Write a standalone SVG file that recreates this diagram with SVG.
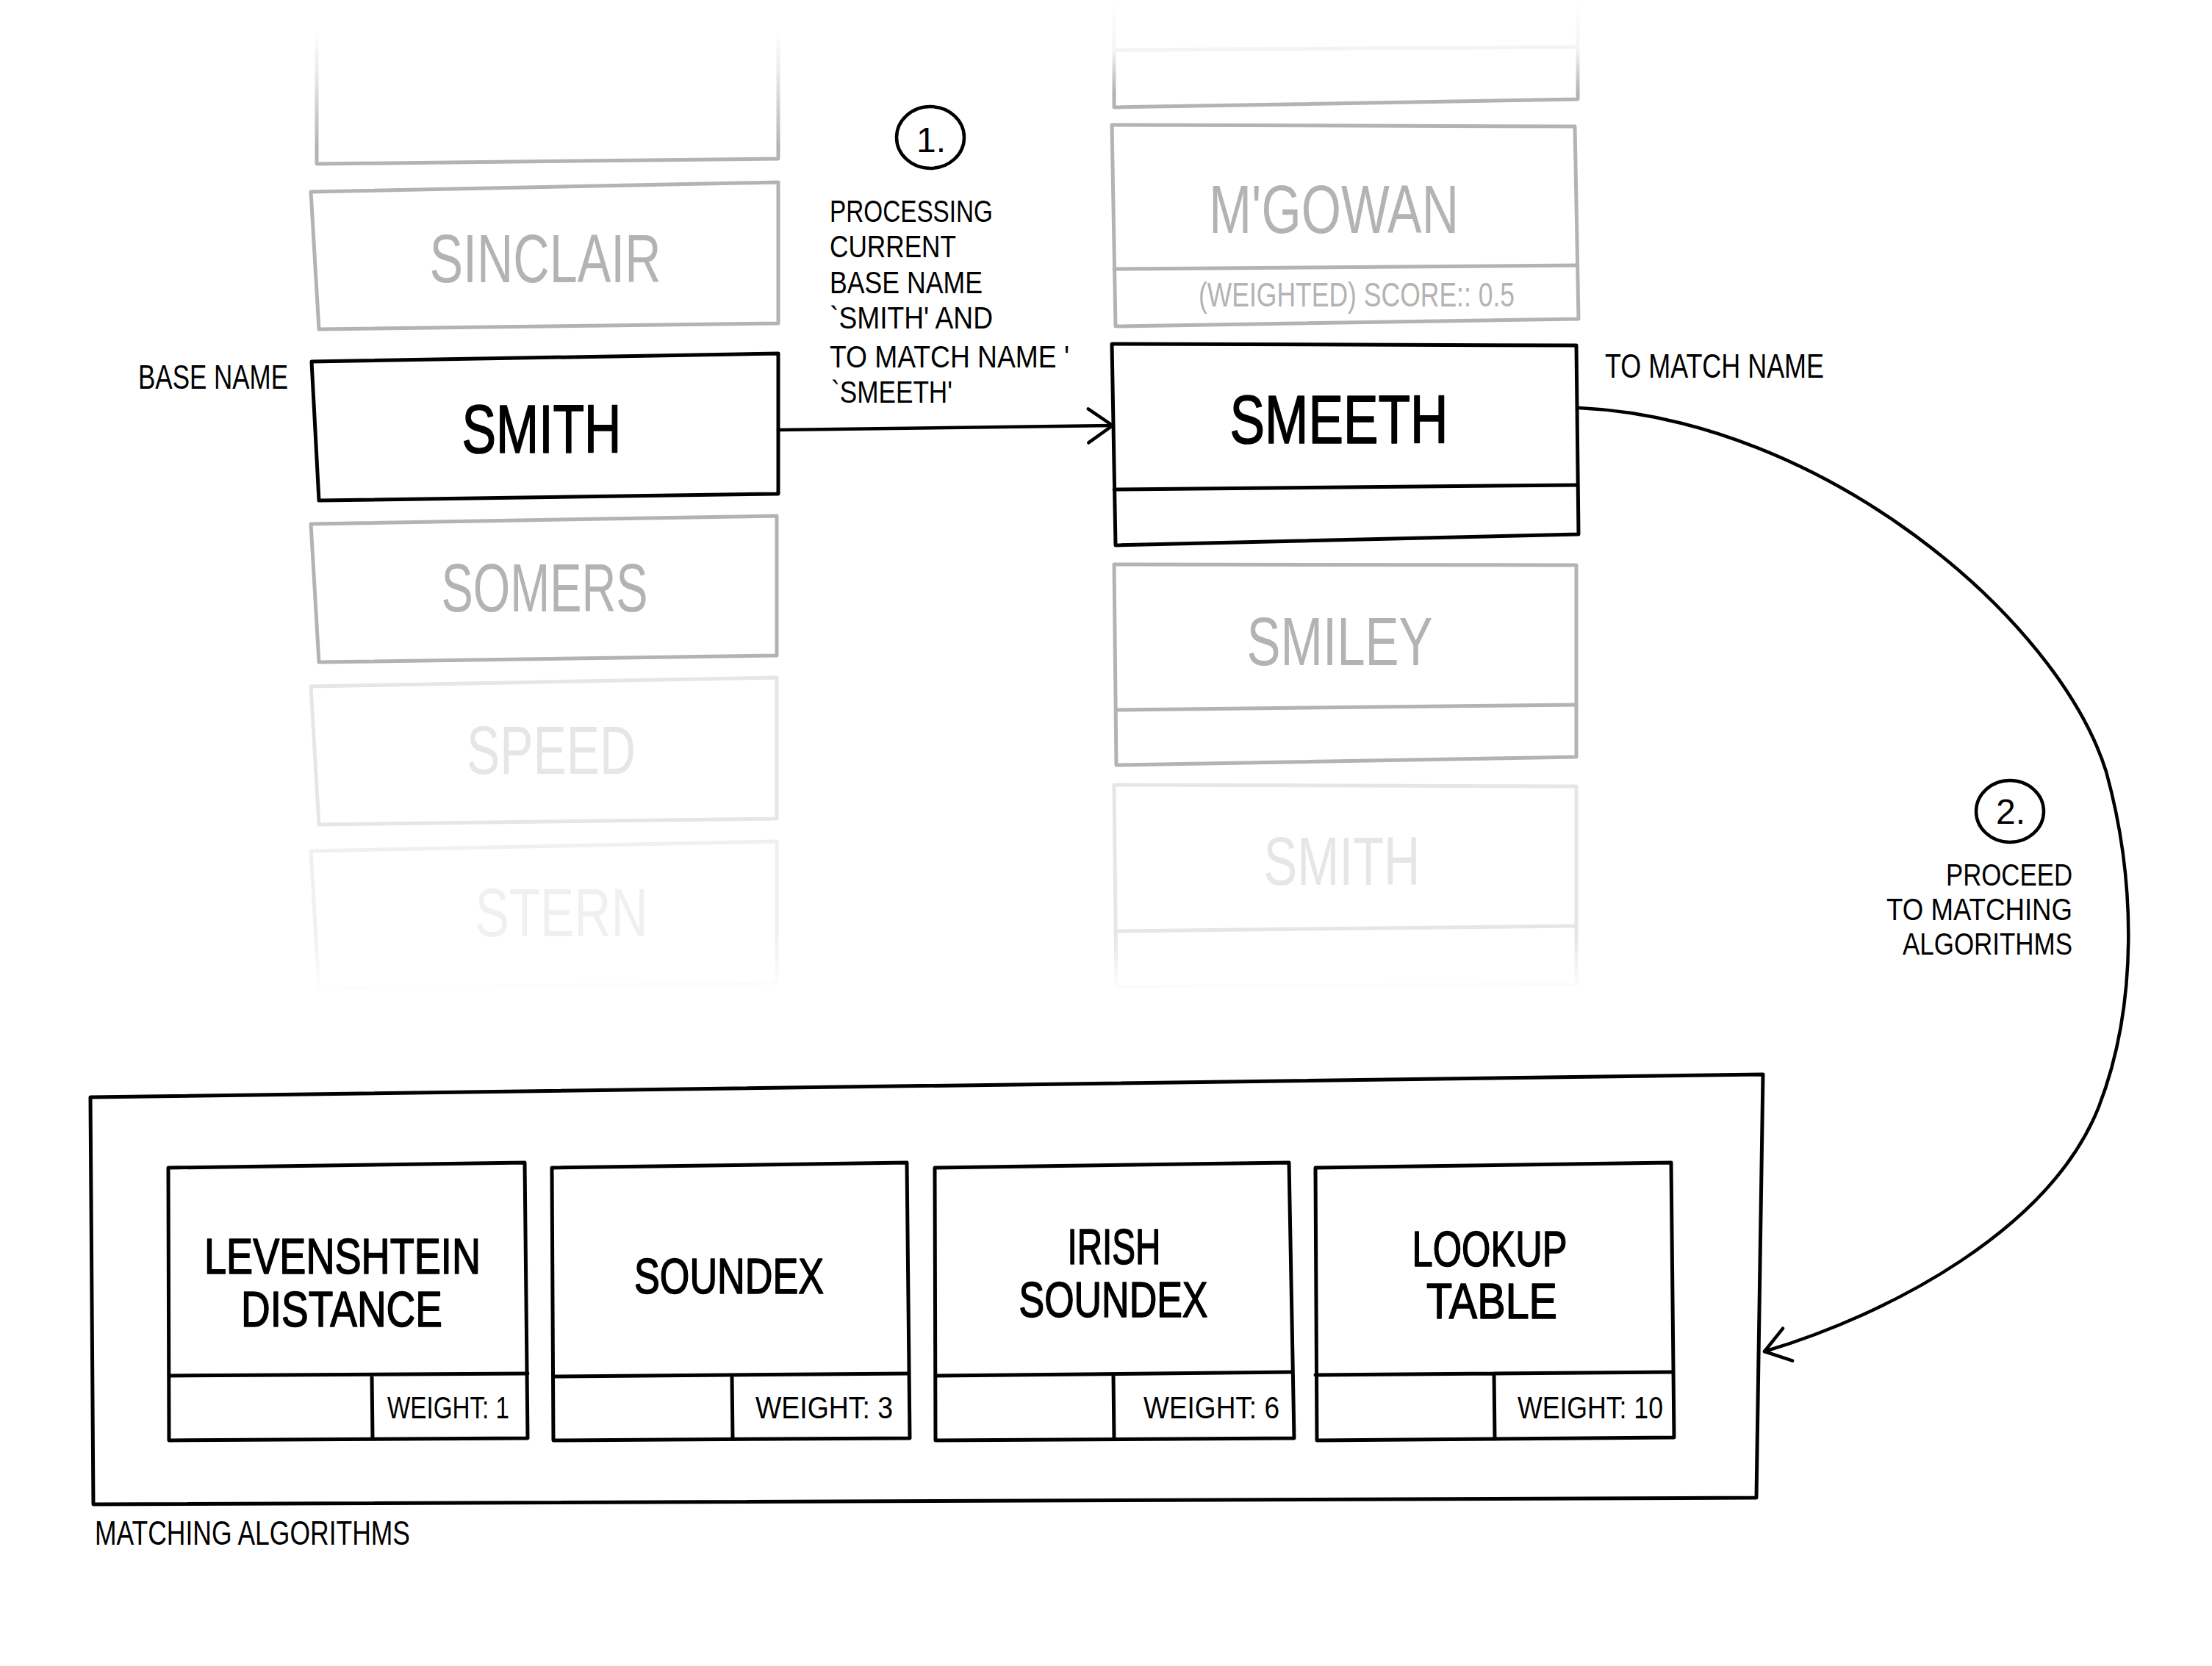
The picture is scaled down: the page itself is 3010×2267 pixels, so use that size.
<svg xmlns="http://www.w3.org/2000/svg" width="3010" height="2267" viewBox="0 0 3010 2267">
<style>
.t{font-family:"Liberation Sans Narrow","Liberation Sans",Arial,sans-serif;}
.k{fill:#000}
.g1{fill:#b3b3b3}
.g2{fill:#e6e6e6}
.g3{fill:#f0f0f0}
.name{font-size:92px;text-anchor:middle}
.kb{stroke:#000;stroke-width:1.6;stroke-linejoin:round}
.lbl{font-size:47px}
.ml{font-size:42px}
.alg{font-size:68px;text-anchor:middle}
.w{font-size:43px}
.num{font-size:48px;text-anchor:middle}
.end{text-anchor:end}
.bk{fill:#fff;stroke:#000;stroke-width:5;stroke-linejoin:round;stroke-linecap:round}
.bg1{fill:#fff;stroke:#b3b3b3;stroke-width:5;stroke-linejoin:round;stroke-linecap:round}
.bg2{fill:#fff;stroke:#e6e6e6;stroke-width:5;stroke-linejoin:round;stroke-linecap:round}
.bg3{fill:#fff;stroke:#f0f0f0;stroke-width:5;stroke-linejoin:round;stroke-linecap:round}
.ln{fill:none;stroke-width:5;stroke-linecap:round}
.conn{fill:none;stroke:#000;stroke-width:4.5;stroke-linecap:round}
.circ{fill:none;stroke:#000;stroke-width:4.5}
</style>
<defs>
<marker id="chev" markerUnits="userSpaceOnUse" viewBox="-45 -35 55 70" refX="0" refY="0" markerWidth="55" markerHeight="70" orient="auto">
<path d="M-33,-23 L0,0 L-33,23" fill="none" stroke="#000" stroke-width="4.5" stroke-linecap="round" stroke-linejoin="round"/>
</marker>
<linearGradient id="fadeTL" gradientUnits="userSpaceOnUse" x1="0" y1="40" x2="0" y2="200">
<stop offset="0" stop-color="#fff" stop-opacity="1"/>
<stop offset="0.35" stop-color="#fff" stop-opacity="0.75"/>
<stop offset="1" stop-color="#fff" stop-opacity="0"/>
</linearGradient>
<linearGradient id="fadeTR" gradientUnits="userSpaceOnUse" x1="0" y1="0" x2="0" y2="125">
<stop offset="0" stop-color="#fff" stop-opacity="1"/>
<stop offset="0.55" stop-color="#fff" stop-opacity="0.85"/>
<stop offset="1" stop-color="#fff" stop-opacity="0"/>
</linearGradient>
<linearGradient id="fadeB" gradientUnits="userSpaceOnUse" x1="0" y1="1272" x2="0" y2="1352">
<stop offset="0" stop-color="#fff" stop-opacity="0"/>
<stop offset="1" stop-color="#fff" stop-opacity="1"/>
</linearGradient>
</defs>
<rect width="3010" height="2267" fill="#fff"/>

<!-- left column -->
<g id="base-top">
<path class="bg1" d="M431,32 L1059,26 L1059,216 L431,223 Z"/>
</g>
<g id="base-sinclair">
<path class="bg1" d="M423,261 L1059,248 L1059,440 L434,448 Z"/>
<text class="t g1 name" x="742" y="384" textLength="315" lengthAdjust="spacingAndGlyphs">SINCLAIR</text>
</g>
<g id="base-smith">
<path class="bk" d="M424,492 L1059,481 L1059,672 L434,681 Z"/>
<text class="t k kb name" x="737" y="616" textLength="217" lengthAdjust="spacingAndGlyphs">SMITH</text>
<text class="t k lbl" x="188" y="529" textLength="204" lengthAdjust="spacingAndGlyphs">BASE NAME</text>
</g>
<g id="base-somers">
<path class="bg1" d="M423,713 L1057,702 L1057,892 L434,901 Z"/>
<text class="t g1 name" x="741" y="832" textLength="281" lengthAdjust="spacingAndGlyphs">SOMERS</text>
</g>
<g id="base-speed">
<path class="bg2" d="M423,934 L1057,922 L1057,1114 L434,1122 Z"/>
<text class="t g2 name" x="750" y="1053" textLength="230" lengthAdjust="spacingAndGlyphs">SPEED</text>
</g>
<g id="base-stern">
<path class="bg3" d="M423,1158 L1057,1145 L1057,1338 L434,1345 Z"/>
<text class="t g3 name" x="764" y="1274" textLength="235" lengthAdjust="spacingAndGlyphs">STERN</text>
</g>

<!-- right column -->
<g id="match-top">
<path class="bg1" d="M1516,0 L2147,0 L2147,135 L1516,146 Z"/>
<path class="ln" stroke="#b3b3b3" d="M1518,68 L2146,64"/>
</g>
<g id="match-mgowan">
<path class="bg1" d="M1513,170 L2143,172 L2148,434 L1518,444 Z"/>
<path class="ln" stroke="#b3b3b3" d="M1516,366 L2146,361"/>
<text class="t g1 name" x="1815" y="317" textLength="340" lengthAdjust="spacingAndGlyphs">M'GOWAN</text>
<text class="t g1 lbl" x="1846" y="417" text-anchor="middle" textLength="430" lengthAdjust="spacingAndGlyphs">(WEIGHTED) SCORE:: 0.5</text>
</g>
<g id="match-smeeth">
<path class="bk" d="M1513,468 L2145,470 L2148,727 L1518,742 Z"/>
<path class="ln" stroke="#000" d="M1516,666 L2146,660"/>
<text class="t k kb name" x="1822" y="603" textLength="297" lengthAdjust="spacingAndGlyphs">SMEETH</text>
<text class="t k lbl" x="2184" y="514" textLength="298" lengthAdjust="spacingAndGlyphs">TO MATCH NAME</text>
</g>
<g id="match-smiley">
<path class="bg1" d="M1516,768 L2145,769 L2145,1030 L1519,1041 Z"/>
<path class="ln" stroke="#b3b3b3" d="M1519,966 L2145,959"/>
<text class="t g1 name" x="1823" y="905" textLength="253" lengthAdjust="spacingAndGlyphs">SMILEY</text>
</g>
<g id="match-smith">
<path class="bg2" d="M1516,1068 L2145,1070 L2145,1340 L1519,1343 Z"/>
<path class="ln" stroke="#e6e6e6" d="M1519,1267 L2145,1260"/>
<text class="t g2 name" x="1826" y="1204" textLength="213" lengthAdjust="spacingAndGlyphs">SMITH</text>
</g>

<!-- fades -->
<rect x="400" y="0" width="690" height="200" fill="url(#fadeTL)"/>
<rect x="1490" y="0" width="690" height="125" fill="url(#fadeTR)"/>
<rect x="400" y="1270" width="1780" height="100" fill="url(#fadeB)"/>

<!-- step labels -->
<g id="step1">
<ellipse class="circ" cx="1266" cy="187" rx="46" ry="42"/>
<text class="t k num" x="1267" y="207">1.</text>
<text class="t k ml"><tspan x="1129" y="302" textLength="222" lengthAdjust="spacingAndGlyphs">PROCESSING</tspan><tspan x="1129" y="350" textLength="172" lengthAdjust="spacingAndGlyphs">CURRENT</tspan><tspan x="1129" y="399" textLength="208" lengthAdjust="spacingAndGlyphs">BASE NAME</tspan><tspan x="1129" y="447" textLength="222" lengthAdjust="spacingAndGlyphs">`SMITH' AND</tspan><tspan x="1129" y="500" textLength="326" lengthAdjust="spacingAndGlyphs">TO MATCH NAME '</tspan><tspan x="1131" y="548" textLength="165" lengthAdjust="spacingAndGlyphs">`SMEETH'</tspan></text>
</g>
<g id="step2">
<ellipse class="circ" cx="2735" cy="1104" rx="46" ry="42"/>
<text class="t k num" x="2736" y="1121">2.</text>
<text class="t k ml end"><tspan x="2820" y="1205" textLength="172" lengthAdjust="spacingAndGlyphs">PROCEED</tspan><tspan x="2820" y="1252" textLength="253" lengthAdjust="spacingAndGlyphs">TO MATCHING</tspan><tspan x="2820" y="1299" textLength="231" lengthAdjust="spacingAndGlyphs">ALGORITHMS</tspan></text>
</g>

<!-- matching algorithms container -->
<g id="algorithms">
<path class="bk" d="M123,1493 L2399,1462 L2390,2038 L127,2047 Z"/>
<text class="t k lbl" x="129" y="2102" textLength="429" lengthAdjust="spacingAndGlyphs">MATCHING ALGORITHMS</text>
</g>
<g id="alg-levenshtein">
<path class="bk" d="M229,1589 L714,1582 L718,1957 L230,1960 Z"/>
<path class="ln" stroke="#000" d="M230,1872 L718,1869 M506,1871 L507,1958"/>
<text class="t k kb alg"><tspan x="466" y="1733" textLength="376" lengthAdjust="spacingAndGlyphs">LEVENSHTEIN</tspan><tspan x="465" y="1805" textLength="274" lengthAdjust="spacingAndGlyphs">DISTANCE</tspan></text>
<text class="t k w" x="527" y="1930" textLength="166" lengthAdjust="spacingAndGlyphs">WEIGHT: 1</text>
</g>
<g id="alg-soundex">
<path class="bk" d="M751,1589 L1234,1582 L1238,1957 L753,1960 Z"/>
<path class="ln" stroke="#000" d="M755,1873 L1236,1869 M996,1871 L997,1958"/>
<text class="t k kb alg" x="992" y="1760" textLength="258" lengthAdjust="spacingAndGlyphs">SOUNDEX</text>
<text class="t k w" x="1028" y="1930" textLength="187" lengthAdjust="spacingAndGlyphs">WEIGHT: 3</text>
</g>
<g id="alg-irish">
<path class="bk" d="M1272,1589 L1754,1582 L1761,1957 L1273,1960 Z"/>
<path class="ln" stroke="#000" d="M1275,1872 L1758,1867 M1515,1870 L1516,1958"/>
<text class="t k kb alg"><tspan x="1516" y="1720" textLength="127" lengthAdjust="spacingAndGlyphs">IRISH</tspan><tspan x="1515" y="1792" textLength="257" lengthAdjust="spacingAndGlyphs">SOUNDEX</tspan></text>
<text class="t k w" x="1556" y="1930" textLength="185" lengthAdjust="spacingAndGlyphs">WEIGHT: 6</text>
</g>
<g id="alg-lookup">
<path class="bk" d="M1790,1589 L2274,1582 L2278,1956 L1792,1960 Z"/>
<path class="ln" stroke="#000" d="M1790,1871 L2275,1867 M2033,1869 L2034,1958"/>
<text class="t k kb alg"><tspan x="2027" y="1723" textLength="211" lengthAdjust="spacingAndGlyphs">LOOKUP</tspan><tspan x="2030" y="1794" textLength="178" lengthAdjust="spacingAndGlyphs">TABLE</tspan></text>
<text class="t k w" x="2065" y="1930" textLength="198" lengthAdjust="spacingAndGlyphs">WEIGHT: 10</text>
</g>

<!-- connectors -->
<g id="connectors">
<path class="conn" d="M1059,585 L1514,579" marker-end="url(#chev)"/>
<path class="conn" d="M2148,555 C2480,570 2800,840 2866,1050 C2906,1195 2910,1366 2856,1506 C2790,1673 2572,1788 2401,1839" marker-end="url(#chev)"/>
</g>
</svg>
